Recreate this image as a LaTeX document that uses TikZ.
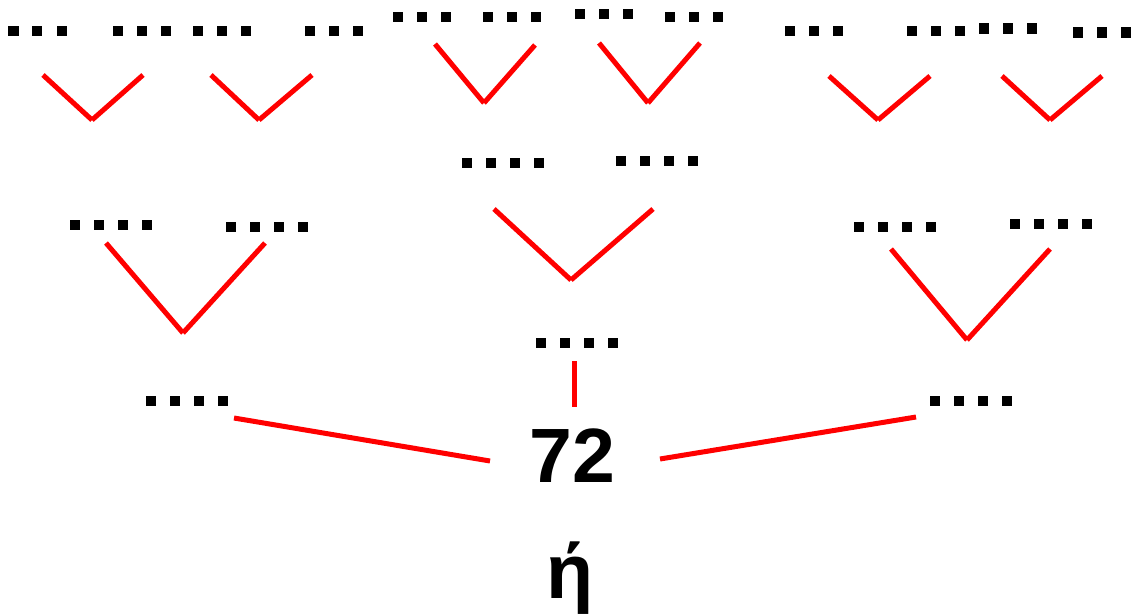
\documentclass[tikz,border=0pt]{standalone}
\usepackage{fontspec}
\setmainfont{Liberation Sans}
\newcommand{\sqbox}{\rule{10pt}{10pt}}
\newcommand{\sqthree}{\sqbox\hspace{14pt}\sqbox\hspace{14pt}\sqbox}
\newcommand{\sqfour}{\sqbox\hspace{14pt}\sqbox\hspace{14pt}\sqbox\hspace{14pt}\sqbox}
\tikzset{
  grp/.style={inner sep=0pt, outer sep=0pt, anchor=center},
  edge/.style={draw=red, line width=5pt},
  big/.style={inner sep=0pt, anchor=base, font=\fontsize{77}{80}\selectfont\bfseries}
}
\begin{document}
\begin{tikzpicture}[x=1pt,y=-1pt]
\useasboundingbox (0,0) rectangle (1131,613);
% top row
\node[grp] (t1) at (37.5,31) {\sqthree};
\node[grp] (t2) at (142,31) {\sqthree};
\node[grp] (t3) at (222,31) {\sqthree};
\node[grp] (t4) at (334,31) {\sqthree};
\node[grp] (t5) at (422,17) {\sqthree};
\node[grp] (t6) at (512,17) {\sqthree};
\node[grp] (t7) at (604,14.5) {\sqthree};
\node[grp] (t8) at (694,17) {\sqthree};
\node[grp] (t9) at (814,31) {\sqthree};
\node[grp] (t10) at (936,31) {\sqthree};
\node[grp] (t11) at (1008,28.5) {\sqthree};
\node[grp] (t12) at (1102,32.5) {\sqthree};
% middle row
\node[grp] (m1) at (111,224.5) {\sqfour};
\node[grp] (m2) at (267,227) {\sqfour};
\node[grp] (m3) at (503,163) {\sqfour};
\node[grp] (m4) at (657,161) {\sqfour};
\node[grp] (m5) at (895,227) {\sqfour};
\node[grp] (m6) at (1051,224) {\sqfour};
% lower row
\node[grp] (b1) at (187,400.5) {\sqfour};
\node[grp] (b2) at (577,342.5) {\sqfour};
\node[grp] (b3) at (971,400.5) {\sqfour};
% root
\node[big] (root) at (572.5,482) {72};
\node[big] (eta) at (570,598) {ή};
% V coordinates (top)
\coordinate (v1a) at (43,75);   \coordinate (v1b) at (92,120);  \coordinate (v1c) at (143,75);
\coordinate (v2a) at (211,75);  \coordinate (v2b) at (259,120); \coordinate (v2c) at (312,75);
\coordinate (v3a) at (435,44);  \coordinate (v3b) at (484,103); \coordinate (v3c) at (535,45);
\coordinate (v4a) at (599,43);  \coordinate (v4b) at (648,103); \coordinate (v4c) at (700,43);
\coordinate (v5a) at (829,76);  \coordinate (v5b) at (878,120); \coordinate (v5c) at (930,76);
\coordinate (v6a) at (1002,76); \coordinate (v6b) at (1050,120);\coordinate (v6c) at (1102,76);
% V coordinates (middle)
\coordinate (v7a) at (106,243); \coordinate (v7b) at (183,333); \coordinate (v7c) at (265,243);
\coordinate (v8a) at (494,209); \coordinate (v8b) at (571,280); \coordinate (v8c) at (653,209);
\coordinate (v9a) at (891,249); \coordinate (v9b) at (967,340); \coordinate (v9c) at (1050,249);
% lower connectors
\coordinate (l1a) at (234,418); \coordinate (l1b) at (490,461);
\coordinate (l2a) at (574,361); \coordinate (l2b) at (574,407);
\coordinate (l3a) at (660,459); \coordinate (l3b) at (916,417);
\foreach \v in {1,...,9}{
  \draw[edge] (v\v a) -- (v\v b);
  \draw[edge] (v\v b) -- (v\v c);
}
\draw[edge] (l1a) -- (l1b);
\draw[edge] (l2a) -- (l2b);
\draw[edge] (l3a) -- (l3b);
\end{tikzpicture}
\end{document}
